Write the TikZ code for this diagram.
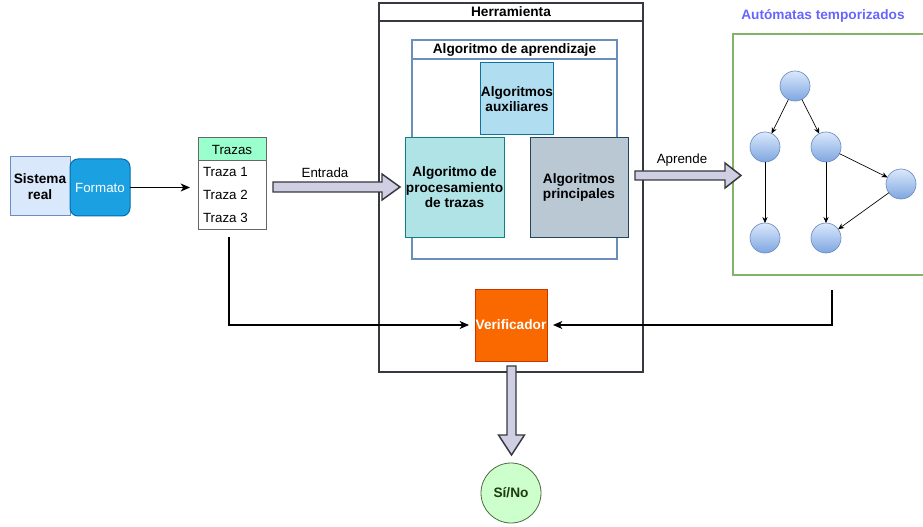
\documentclass[tikz,border=0pt]{standalone}
\usepackage{fontspec}
\setmainfont{Liberation Sans}
\usetikzlibrary{calc,arrows.meta}
\definecolor{srfill}{HTML}{DAE8FC}
\definecolor{srdraw}{HTML}{6C8EBF}
\definecolor{fmfill}{HTML}{1BA1E2}
\definecolor{fmdraw}{HTML}{006EAF}
\definecolor{trhead}{HTML}{99FFCC}
\definecolor{trdraw}{HTML}{666666}
\definecolor{toolc}{HTML}{36393D}
\definecolor{auxfill}{HTML}{B1DDF0}
\definecolor{auxdraw}{HTML}{10739E}
\definecolor{procfill}{HTML}{B0E3E6}
\definecolor{procdraw}{HTML}{0E8088}
\definecolor{prinfill}{HTML}{BAC8D3}
\definecolor{prindraw}{HTML}{23445D}
\definecolor{verfill}{HTML}{FA6800}
\definecolor{verdraw}{HTML}{C73500}
\definecolor{sifill}{HTML}{CCFFCC}
\definecolor{sitext}{HTML}{1E3A0E}
\definecolor{autdraw}{HTML}{82B366}
\definecolor{autlabel}{HTML}{6666FF}
\definecolor{blkfill}{HTML}{D0CEE2}
\definecolor{blkdraw}{HTML}{36393D}
\definecolor{stgrad}{HTML}{7EA6E0}
\tikzset{
  every node/.style={font=\fontsize{10}{11.6}\selectfont, inner sep=0pt, outer sep=0pt},
  box/.style={draw, rectangle, align=center, line width=0.75pt},
  bf/.style={font=\fontsize{10.25}{11.6}\selectfont\bfseries},
  state/.style={circle, draw=srdraw, top color=srfill, bottom color=stgrad, minimum size=22.5pt, line width=0.5pt},
  stedge/.style={-{Stealth[length=4.5pt,width=4pt]}, line width=0.5pt, black},
  conn/.style={-{Stealth[length=7pt,width=6pt,inset=2pt]}, line width=0.9pt, black},
  blk/.style={fill=blkfill, draw=blkdraw, line width=1.1pt, line join=miter}
}
\begin{document}
\begin{tikzpicture}[x=0.75pt, y=-0.75pt]
\useasboundingbox (0,0) rectangle (923,527);

% Sistema real and Formato
\node[box, bf, fill=srfill, draw=srdraw, minimum width=45pt, minimum height=44.25pt] (sr) at (40,186.5) {Sistema\\real};
\node[box, fill=fmfill, draw=fmdraw, text=white, rounded corners=6pt, minimum width=45pt, minimum height=42.75pt] (fm) at (100,187.5) {Formato};

% Trazas list
\node[box, fill=trhead, draw=trdraw, minimum width=51pt, minimum height=17.25pt] (trh) at (232,149.5) {Trazas};
\node[box, fill=white, draw=trdraw, minimum width=51pt, minimum height=51pt] (trb) at (232,195) {};
\node[anchor=west] (t1) at (203,172) {Traza 1};
\node[anchor=west] (t2) at (203,195) {Traza 2};
\node[anchor=west] (t3) at (203,218) {Traza 3};

% Herramienta
\node[box, draw=toolc, line width=1.5pt, minimum width=198pt, minimum height=276.75pt] (tool) at (511,187.5) {};
\draw[toolc, line width=1.5pt] (379,21) -- (643,21);
\node[bf] (tooltitle) at (511,12) {Herramienta};

% Algoritmo de aprendizaje
\node[box, draw=srdraw, line width=1.5pt, minimum width=153.75pt, minimum height=164.25pt] (apr) at (514.5,149.5) {};
\draw[srdraw, line width=1.5pt] (412,59) -- (617,59);
\node[bf] (aprtitle) at (514.5,49.5) {Algoritmo de aprendizaje};

\node[box, bf, fill=auxfill, draw=auxdraw, minimum width=54pt, minimum height=54pt] (aux) at (517,99) {Algoritmos\\auxiliares};
\node[box, bf, fill=procfill, draw=procdraw, minimum width=74.25pt, minimum height=74.25pt] (proc) at (454.5,187.5) {Algoritmo de\\procesamiento\\de trazas};
\node[box, bf, fill=prinfill, draw=prindraw, minimum width=73.5pt, minimum height=74.25pt] (prin) at (579,187.5) {Algoritmos\\principales};

% Verificador
\node[box, bf, fill=verfill, draw=verdraw, text=white, line width=0.5pt, minimum width=54pt, minimum height=54pt] (ver) at (511,325) {Verificador};

% Si/No
\node[circle, draw=autdraw!60!black, fill=sifill, text=sitext, bf, line width=0.6pt, minimum size=45pt] (si) at (511,493) {Sí/No};

% Automatas temporizados
\node[box, draw=autdraw, line width=1.5pt, minimum width=144pt, minimum height=180.75pt] (aut) at (829,154.5) {};
\node[bf, text=autlabel] (autlabeltext) at (823,16) {Autómatas temporizados};

\node[state] (s0) at (795,86) {};
\node[state] (s1) at (765,147) {};
\node[state] (s2) at (826,147) {};
\node[state] (s3) at (901,184) {};
\node[state] (s4) at (765,238) {};
\node[state] (s5) at (826,238) {};
\draw[stedge] (s0) -- (s1);
\draw[stedge] (s0) -- (s2);
\draw[stedge] (s1) -- (s4);
\draw[stedge] (s2) -- (s5);
\draw[stedge] (s2) -- (s3);
\draw[stedge] (s3) -- (s5);

% Connectors
\draw[conn, shorten >=6pt] (fm.east) -- (trh.west |- fm.east);
\coordinate (trout) at (229,237);
\draw[conn, shorten >=4.5pt] (trout) |- (ver.west);
\coordinate (autout) at (832,290);
\draw[conn, shorten >=4.5pt] (autout) |- (ver.east);

% Block arrow Entrada
\coordinate (ea) at (273,187);
\coordinate (eb) at (400,187);
\draw[blk] ($(ea)+(0,-5)$) -- ($(eb)+(-18,-5)$) -- ($(eb)+(-18,-13)$) -- (eb) -- ($(eb)+(-18,13)$) -- ($(eb)+(-18,5)$) -- ($(ea)+(0,5)$) -- cycle;
\node (entrada) at (325,173) {Entrada};

% Block arrow Aprende
\coordinate (aa) at (635,175.5);
\coordinate (ab) at (741,175.5);
\draw[blk] ($(aa)+(0,-4.5)$) -- ($(ab)+(-16,-4.5)$) -- ($(ab)+(-16,-12.5)$) -- (ab) -- ($(ab)+(-16,12.5)$) -- ($(ab)+(-16,4.5)$) -- ($(aa)+(0,4.5)$) -- cycle;
\node (aprende) at (682,160) {Aprende};

% Block arrow down
\coordinate (da) at (511.5,366);
\coordinate (db) at (511.5,455);
\draw[blk] ($(da)+(-4.5,0)$) -- ($(db)+(-4.5,-20)$) -- ($(db)+(-13,-20)$) -- (db) -- ($(db)+(13,-20)$) -- ($(db)+(4.5,-20)$) -- ($(da)+(4.5,0)$) -- cycle;
\end{tikzpicture}
\end{document}
